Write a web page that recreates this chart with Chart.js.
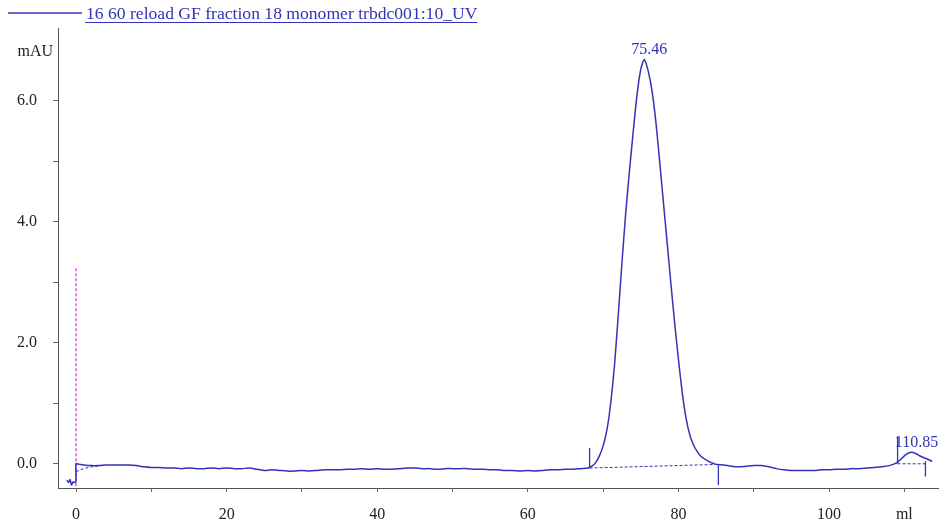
<!DOCTYPE html>
<html>
<head>
<meta charset="utf-8">
<script src="https://cdn.jsdelivr.net/npm/chart.js@4/dist/chart.umd.min.js"></script>
<style>
  body { margin: 0; background: #fff; }
  #wrap { width: 939px; height: 521px; }
</style>
</head>
<body>
<div id="wrap"><canvas id="chart" width="939" height="521"></canvas></div>
<script>
// UV trace, elution volume (ml) vs absorbance (mAU)
const volumes = [
  -1.2, -1.0, -0.8, -0.6, -0.4, -0.1, 0.0, 0.0, 0.5, 1, 2, 3, 4, 5, 6, 7, 8, 9,
  10, 11, 12, 13, 14, 15, 16, 17, 18, 19, 20, 21, 22, 23, 24, 25, 26, 27, 28, 29,
  30, 31, 32, 33, 34, 35, 36, 37, 38, 39, 40, 41, 42, 43, 44, 45, 46, 47, 48, 49,
  50, 51, 52, 53, 54, 55, 56, 57, 58, 59, 60, 61, 62, 63, 64, 65, 66, 67, 68,
  68.5, 69, 69.5, 70, 70.5, 71, 71.5, 72, 72.5, 73, 73.5, 74, 74.5, 75, 75.46,
  76, 76.5, 77, 77.5, 78, 78.5, 79, 79.5, 80, 80.5, 81, 81.5, 82, 82.5, 83, 84,
  85, 86, 87, 88, 89, 90, 91, 92, 93, 94, 95, 96, 97, 98, 99, 100, 101, 102, 103,
  104, 105, 106, 107, 108, 108.9, 109.5, 110.2, 110.85, 111.5, 112.2, 113, 113.7
];
const absorbance = [
  -0.27, -0.31, -0.26, -0.35, -0.30, -0.31, -0.25, 0.0, -0.01, -0.02, -0.03, -0.03, -0.02, -0.02, -0.02, -0.02, -0.03, -0.05,
  -0.06, -0.06, -0.07, -0.07, -0.08, -0.07, -0.08, -0.08, -0.07, -0.08, -0.07, -0.08, -0.08, -0.07, -0.09, -0.11, -0.10, -0.11, -0.12, -0.12,
  -0.11, -0.12, -0.11, -0.10, -0.10, -0.10, -0.09, -0.09, -0.08, -0.09, -0.08, -0.09, -0.09, -0.08, -0.07, -0.07, -0.08, -0.08, -0.09, -0.08,
  -0.08, -0.08, -0.08, -0.09, -0.09, -0.10, -0.10, -0.11, -0.11, -0.12, -0.11, -0.12, -0.11, -0.10, -0.10, -0.09, -0.09, -0.08, -0.07,
  -0.04, 0.02, 0.13, 0.30, 0.56, 1.0, 1.62, 2.45, 3.33, 4.15, 4.85, 5.5, 6.1, 6.52, 6.68,
  6.48, 6.15, 5.65, 5.0, 4.32, 3.65, 2.97, 2.32, 1.72, 1.18, 0.76, 0.48, 0.31, 0.2, 0.12, 0.04,
  -0.01, -0.02, -0.04, -0.05, -0.04, -0.03, -0.03, -0.05, -0.08, -0.10, -0.11, -0.11, -0.11, -0.11, -0.10, -0.10, -0.09, -0.09, -0.08,
  -0.08, -0.07, -0.06, -0.05, -0.03, 0.01, 0.07, 0.15, 0.19, 0.17, 0.12, 0.08, 0.04
];

// integration baselines (dashed)
const baseVolumes = [[0, 1, 2, 3.5], [68.2, 85.3], [109.1, 112.8]];
const baseValues = [[-0.13, -0.08, -0.05, -0.03], [-0.07, -0.01], [0.0, 0.0]];

// peak start / end markers
const markVolumes = [68.2, 85.3, 109.1, 112.8];
const markTop = [0.26, 0.0, 0.45, 0.04];
const markBottom = [-0.07, -0.35, 0.0, -0.21];

// peak labels
const peakVolumes = [75.46, 110.85];
const peakLabels = ['75.46', '110.85'];
const peakLabelY = [6.84, 0.35];

// injection mark
const injectVolume = 0;
const injectTop = 3.23;

const seriesName = '16 60 reload GF fraction 18 monomer trbdc001:10_UV';
const blue = '#3333b8';

const trace = volumes.map((v, i) => ({ x: v, y: absorbance[i] }));
const baselines = [];
baseVolumes.forEach((vs, k) => {
  vs.forEach((v, i) => baselines.push({ x: v, y: baseValues[k][i] }));
  baselines.push({ x: vs[vs.length - 1], y: null });
});
const marks = [];
markVolumes.forEach((v, i) => {
  marks.push({ x: v, y: markTop[i] }, { x: v, y: markBottom[i] }, { x: v, y: null });
});

const overlay = {
  id: 'overlay',
  afterDraw(chart) {
    const ctx = chart.ctx;
    const xs = chart.scales.x, ys = chart.scales.y;
    ctx.save();
    // legend
    ctx.strokeStyle = blue;
    ctx.lineWidth = 1.3;
    ctx.beginPath(); ctx.moveTo(8, 13); ctx.lineTo(82, 13); ctx.stroke();
    ctx.font = '17.6px "Liberation Serif", "Times New Roman", serif';
    ctx.fillStyle = blue;
    ctx.textBaseline = 'alphabetic';
    ctx.textAlign = 'left';
    ctx.fillText(seriesName, 86, 19);
    const w = ctx.measureText(seriesName).width;
    ctx.lineWidth = 1;
    ctx.beginPath(); ctx.moveTo(85, 22.5); ctx.lineTo(86 + w, 22.5); ctx.stroke();
    // peak labels
    ctx.font = '16px "Liberation Serif", "Times New Roman", serif';
    ctx.textBaseline = 'middle';
    ctx.textAlign = 'left';
    peakLabels.forEach((t, i) => {
      const tw = ctx.measureText(t).width;
      let px = xs.getPixelForValue(peakVolumes[i]) - tw / 2 + 5;
      if (i === 1) px = xs.getPixelForValue(109.0) - 2;
      ctx.fillText(t, px, ys.getPixelForValue(peakLabelY[i]));
    });
    // y unit
    ctx.fillStyle = '#222';
    ctx.textAlign = 'right';
    ctx.fillText('mAU', xs.left - 5, ys.getPixelForValue(6.8));
    ctx.restore();
  }
};

new Chart(document.getElementById('chart'), {
  type: 'line',
  data: {
    datasets: [
      { label: seriesName, data: trace, borderColor: blue, borderWidth: 1.5, pointRadius: 0, tension: 0.2 },
      { label: 'baseline', data: baselines, borderColor: blue, borderWidth: 1, borderDash: [3, 2], pointRadius: 0, spanGaps: false },
      { label: 'marks', data: marks, borderColor: blue, borderWidth: 1.3, pointRadius: 0, spanGaps: false },
      { label: 'inject', data: [{ x: injectVolume, y: injectTop }, { x: injectVolume, y: -0.4 }],
        borderColor: '#e03ce0', borderWidth: 1.3, borderDash: [3, 2], pointRadius: 0 }
    ]
  },
  options: {
    responsive: false,
    devicePixelRatio: 1,
    animation: false,
    layout: { padding: { top: 28, right: 0, left: 0, bottom: 0 } },
    plugins: { legend: { display: false }, tooltip: { enabled: false } },
    scales: {
      x: {
        type: 'linear', min: -2.4, max: 114.6,
        afterBuildTicks: s => { s.ticks = s.ticks.filter(t => t.value >= 0 && t.value <= 110); },
        afterFit: s => { s.height = 33; },
        ticks: {
          stepSize: 10, includeBounds: false, autoSkip: false, maxRotation: 0, padding: 13,
          color: '#222', font: { family: '"Liberation Serif", serif', size: 16 },
          callback: v => v === 110 ? 'ml' : (v % 20 === 0 ? String(v) : '')
        },
        grid: { drawOnChartArea: false, drawTicks: true, tickLength: 4, color: '#666' },
        border: { display: true, color: '#555', width: 1 }
      },
      y: {
        type: 'linear', min: -0.4, max: 7.2,
        afterBuildTicks: s => { s.ticks = s.ticks.filter(t => t.value >= 0 && t.value <= 6); },
        afterFit: s => { s.width = 58; },
        ticks: {
          stepSize: 1, includeBounds: false, autoSkip: false, padding: 16,
          color: '#222', font: { family: '"Liberation Serif", serif', size: 16 },
          callback: v => v % 2 === 0 ? v.toFixed(1) : ''
        },
        grid: { drawOnChartArea: false, drawTicks: true, tickLength: 5, color: '#666' },
        border: { display: true, color: '#555', width: 1 }
      }
    }
  },
  plugins: [overlay]
});
</script>
</body>
</html>
